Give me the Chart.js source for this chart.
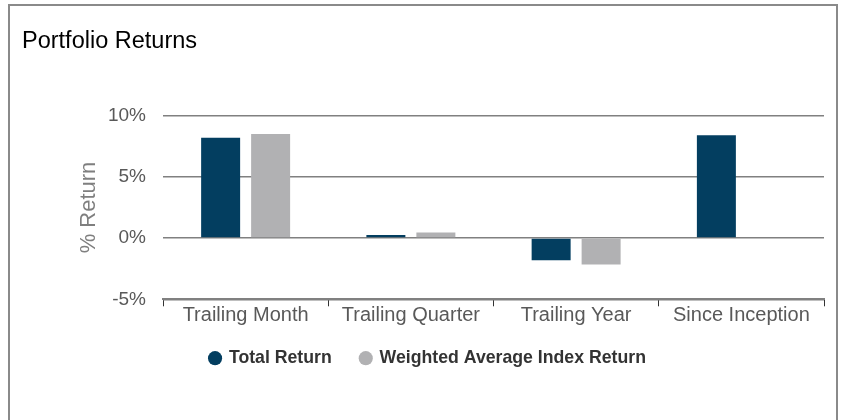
<!DOCTYPE html>
<html>
<head>
<meta charset="utf-8">
<script src="https://cdn.jsdelivr.net/npm/chart.js@4"></script>
<style>
  body { margin: 0; background: #fff; }
  #frame {
    position: absolute; left: 8px; top: 4px;
    width: 826px; height: 420px;
    border: 2px solid #8a8a8a; border-bottom: none;
  }
  #box { position: relative; width: 826px; height: 414px; }
</style>
</head>
<body>
<div id="frame"><div id="box"><canvas id="myChart"></canvas></div></div>
<script>
// data
const categories = ['Trailing Month', 'Trailing Quarter', 'Trailing Year', 'Since Inception'];
const totalReturn = [8.2, 0.25, -1.8, 8.4];
const indexReturn = [8.5, 0.45, -2.15, null];
const yTicks = [10, 5, 0, -5];

const font = "'Liberation Sans', Arial, sans-serif";

// nudge the legend a little, like the original
const legendShift = {
    id: 'legendShift',
    afterLayout(chart) {
        const lg = chart.legend;
        lg.left += 5;
        lg.right += 5;
        lg.top -= 7;
        lg.bottom -= 7;
    }
};

const ctx = document.getElementById('myChart').getContext('2d');
const myChart = new Chart(ctx, {
    type: 'bar',
    data: {
        labels: categories,
        datasets: [{
            label: 'Total Return',
            data: totalReturn,
            backgroundColor: '#033e60',
            borderWidth: 0
        }, {
            label: 'Weighted Average Index Return',
            data: indexReturn,
            backgroundColor: '#b1b1b3',
            borderWidth: 0
        }]
    },
    plugins: [legendShift],
    options: {
        responsive: true,
        maintainAspectRatio: false,
        animation: false,
        categoryPercentage: 0.605,
        barPercentage: 0.78,
        layout: { padding: { left: 12, right: 12, top: 0, bottom: 36 } },
        plugins: {
            tooltip: { enabled: false },
            title: {
                display: true,
                text: 'Portfolio Returns',
                align: 'start',
                color: '#000',
                font: { family: font, size: 23.5, weight: 'normal' },
                padding: { top: 21, bottom: 60.5 }
            },
            legend: {
                position: 'bottom',
                labels: {
                    usePointStyle: true,
                    pointStyle: 'circle',
                    boxWidth: 10,
                    boxHeight: 10,
                    padding: 29,
                    color: '#333',
                    font: { family: font, size: 17.7, weight: 'bold' }
                }
            }
        },
        scales: {
            x: {
                grid: {
                    display: true,
                    offset: true,
                    drawOnChartArea: false,
                    drawTicks: true,
                    tickLength: 7,
                    tickColor: '#333',
                    tickWidth: 1
                },
                border: { display: true, color: '#808080', width: 2 },
                ticks: {
                    color: '#595959',
                    padding: -2.5,
                    font: { family: font, size: 20 }
                },
                afterFit: (scale) => { scale.height = 28; }
            },
            y: {
                min: -5,
                max: 10,
                afterBuildTicks: (scale) => {
                    scale.ticks = yTicks.slice().reverse().map(v => ({ value: v }));
                },
                grid: {
                    color: '#808080',
                    lineWidth: 1.5,
                    drawTicks: false
                },
                border: { display: false },
                ticks: {
                    color: '#595959',
                    padding: 17,
                    font: { family: font, size: 19 },
                    callback: (v) => v + '%'
                },
                title: {
                    display: true,
                    text: '% Return',
                    color: '#7f7f7f',
                    font: { family: font, size: 22 },
                    padding: { top: 54, bottom: 0 }
                },
                afterFit: (scale) => { scale.width = 141; }
            }
        }
    }
});
</script>
</body>
</html>
